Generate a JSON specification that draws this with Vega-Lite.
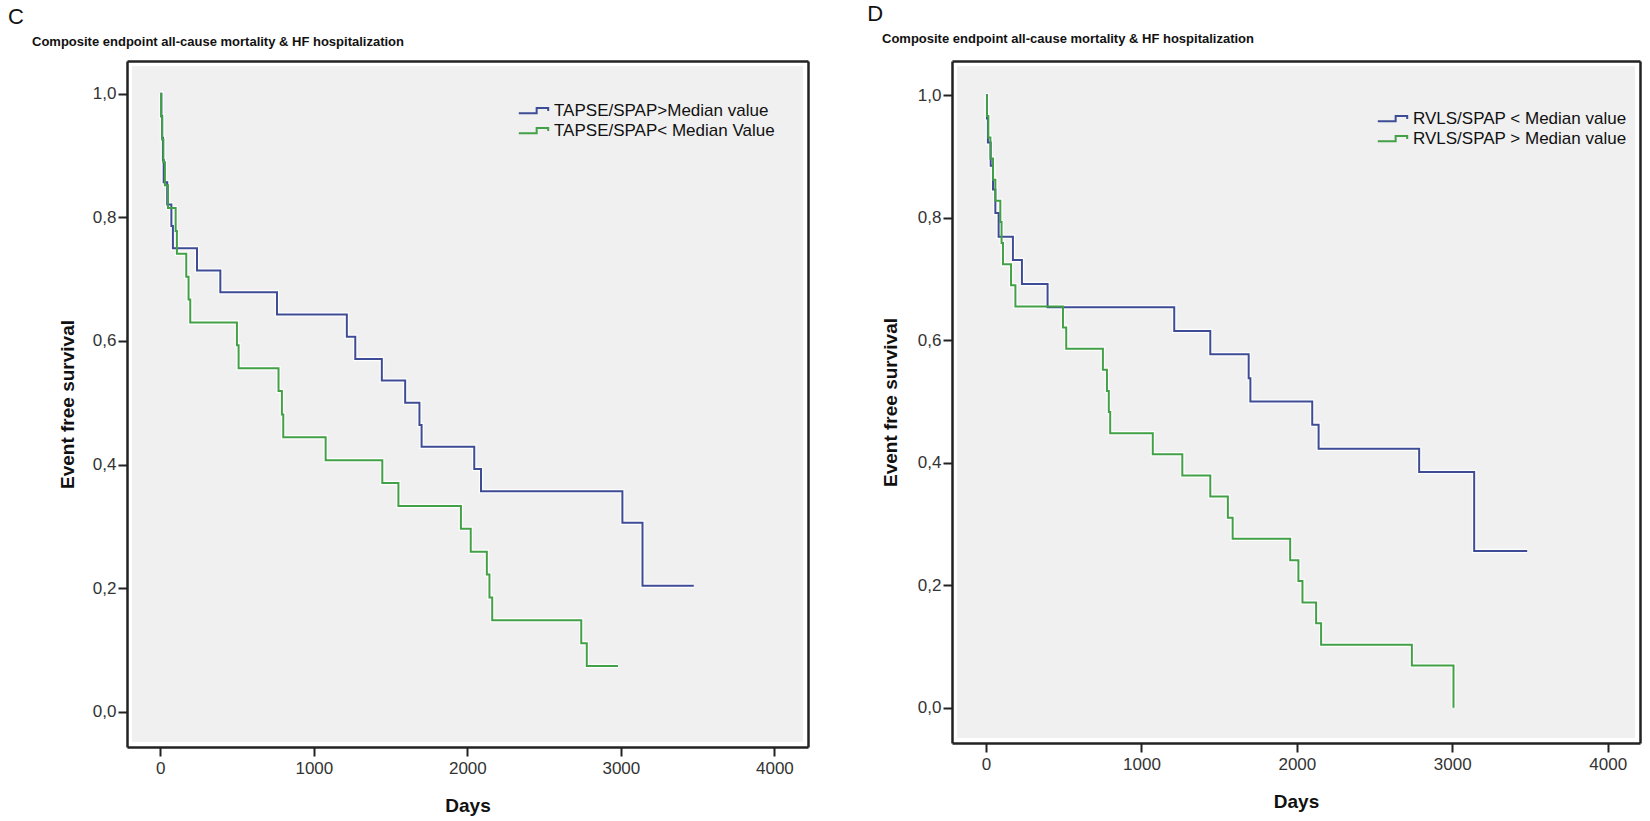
{
  "$schema": "https://vega.github.io/schema/vega-lite/v6.json",
  "background": "white",
  "padding": {"left": 8, "top": 3, "right": 5, "bottom": 5},
  "datasets": {
    "C": [
      {"g": "TAPSE/SPAP>Median value", "d": 0, "s": 1.0},
      {"g": "TAPSE/SPAP>Median value", "d": 7, "s": 0.964},
      {"g": "TAPSE/SPAP>Median value", "d": 12, "s": 0.929},
      {"g": "TAPSE/SPAP>Median value", "d": 17, "s": 0.893},
      {"g": "TAPSE/SPAP>Median value", "d": 22, "s": 0.857},
      {"g": "TAPSE/SPAP>Median value", "d": 45, "s": 0.821},
      {"g": "TAPSE/SPAP>Median value", "d": 72, "s": 0.786},
      {"g": "TAPSE/SPAP>Median value", "d": 82, "s": 0.75},
      {"g": "TAPSE/SPAP>Median value", "d": 239, "s": 0.714},
      {"g": "TAPSE/SPAP>Median value", "d": 391, "s": 0.679},
      {"g": "TAPSE/SPAP>Median value", "d": 760, "s": 0.643},
      {"g": "TAPSE/SPAP>Median value", "d": 1215, "s": 0.607},
      {"g": "TAPSE/SPAP>Median value", "d": 1270, "s": 0.571},
      {"g": "TAPSE/SPAP>Median value", "d": 1443, "s": 0.536},
      {"g": "TAPSE/SPAP>Median value", "d": 1595, "s": 0.5},
      {"g": "TAPSE/SPAP>Median value", "d": 1688, "s": 0.464},
      {"g": "TAPSE/SPAP>Median value", "d": 1702, "s": 0.429},
      {"g": "TAPSE/SPAP>Median value", "d": 2045, "s": 0.393},
      {"g": "TAPSE/SPAP>Median value", "d": 2089, "s": 0.357},
      {"g": "TAPSE/SPAP>Median value", "d": 3010, "s": 0.306},
      {"g": "TAPSE/SPAP>Median value", "d": 3141, "s": 0.204},
      {"g": "TAPSE/SPAP>Median value", "d": 3475, "s": 0.204},
      {"g": "TAPSE/SPAP< Median Value", "d": 0, "s": 1.0},
      {"g": "TAPSE/SPAP< Median Value", "d": 5, "s": 0.963},
      {"g": "TAPSE/SPAP< Median Value", "d": 12, "s": 0.926},
      {"g": "TAPSE/SPAP< Median Value", "d": 20, "s": 0.889},
      {"g": "TAPSE/SPAP< Median Value", "d": 30, "s": 0.852},
      {"g": "TAPSE/SPAP< Median Value", "d": 50, "s": 0.815},
      {"g": "TAPSE/SPAP< Median Value", "d": 100, "s": 0.778},
      {"g": "TAPSE/SPAP< Median Value", "d": 108, "s": 0.741},
      {"g": "TAPSE/SPAP< Median Value", "d": 169, "s": 0.704},
      {"g": "TAPSE/SPAP< Median Value", "d": 184, "s": 0.667},
      {"g": "TAPSE/SPAP< Median Value", "d": 195, "s": 0.63},
      {"g": "TAPSE/SPAP< Median Value", "d": 499, "s": 0.593},
      {"g": "TAPSE/SPAP< Median Value", "d": 510, "s": 0.556},
      {"g": "TAPSE/SPAP< Median Value", "d": 770, "s": 0.519},
      {"g": "TAPSE/SPAP< Median Value", "d": 792, "s": 0.481},
      {"g": "TAPSE/SPAP< Median Value", "d": 801, "s": 0.444},
      {"g": "TAPSE/SPAP< Median Value", "d": 1077, "s": 0.407},
      {"g": "TAPSE/SPAP< Median Value", "d": 1446, "s": 0.37},
      {"g": "TAPSE/SPAP< Median Value", "d": 1551, "s": 0.333},
      {"g": "TAPSE/SPAP< Median Value", "d": 1958, "s": 0.296},
      {"g": "TAPSE/SPAP< Median Value", "d": 2022, "s": 0.259},
      {"g": "TAPSE/SPAP< Median Value", "d": 2127, "s": 0.222},
      {"g": "TAPSE/SPAP< Median Value", "d": 2144, "s": 0.185},
      {"g": "TAPSE/SPAP< Median Value", "d": 2162, "s": 0.148},
      {"g": "TAPSE/SPAP< Median Value", "d": 2742, "s": 0.111},
      {"g": "TAPSE/SPAP< Median Value", "d": 2778, "s": 0.074},
      {"g": "TAPSE/SPAP< Median Value", "d": 2981, "s": 0.074}
    ],
    "D": [
      {"g": "RVLS/SPAP < Median value", "d": 0, "s": 1.0},
      {"g": "RVLS/SPAP < Median value", "d": 6, "s": 0.962},
      {"g": "RVLS/SPAP < Median value", "d": 12, "s": 0.923},
      {"g": "RVLS/SPAP < Median value", "d": 30, "s": 0.885},
      {"g": "RVLS/SPAP < Median value", "d": 45, "s": 0.846},
      {"g": "RVLS/SPAP < Median value", "d": 60, "s": 0.808},
      {"g": "RVLS/SPAP < Median value", "d": 81, "s": 0.769},
      {"g": "RVLS/SPAP < Median value", "d": 173, "s": 0.731},
      {"g": "RVLS/SPAP < Median value", "d": 231, "s": 0.692},
      {"g": "RVLS/SPAP < Median value", "d": 396, "s": 0.654},
      {"g": "RVLS/SPAP < Median value", "d": 1211, "s": 0.615},
      {"g": "RVLS/SPAP < Median value", "d": 1443, "s": 0.577},
      {"g": "RVLS/SPAP < Median value", "d": 1690, "s": 0.538},
      {"g": "RVLS/SPAP < Median value", "d": 1701, "s": 0.5},
      {"g": "RVLS/SPAP < Median value", "d": 2099, "s": 0.462},
      {"g": "RVLS/SPAP < Median value", "d": 2140, "s": 0.423},
      {"g": "RVLS/SPAP < Median value", "d": 2787, "s": 0.385},
      {"g": "RVLS/SPAP < Median value", "d": 3141, "s": 0.256},
      {"g": "RVLS/SPAP < Median value", "d": 3482, "s": 0.256},
      {"g": "RVLS/SPAP > Median value", "d": 0, "s": 1.0},
      {"g": "RVLS/SPAP > Median value", "d": 6, "s": 0.966},
      {"g": "RVLS/SPAP > Median value", "d": 15, "s": 0.931},
      {"g": "RVLS/SPAP > Median value", "d": 28, "s": 0.897},
      {"g": "RVLS/SPAP > Median value", "d": 45, "s": 0.862},
      {"g": "RVLS/SPAP > Median value", "d": 60, "s": 0.828},
      {"g": "RVLS/SPAP > Median value", "d": 92, "s": 0.793},
      {"g": "RVLS/SPAP > Median value", "d": 100, "s": 0.759},
      {"g": "RVLS/SPAP > Median value", "d": 109, "s": 0.724},
      {"g": "RVLS/SPAP > Median value", "d": 161, "s": 0.69},
      {"g": "RVLS/SPAP > Median value", "d": 189, "s": 0.655},
      {"g": "RVLS/SPAP > Median value", "d": 495, "s": 0.621},
      {"g": "RVLS/SPAP > Median value", "d": 516, "s": 0.586},
      {"g": "RVLS/SPAP > Median value", "d": 752, "s": 0.552},
      {"g": "RVLS/SPAP > Median value", "d": 778, "s": 0.517},
      {"g": "RVLS/SPAP > Median value", "d": 790, "s": 0.483},
      {"g": "RVLS/SPAP > Median value", "d": 799, "s": 0.448},
      {"g": "RVLS/SPAP > Median value", "d": 1073, "s": 0.414},
      {"g": "RVLS/SPAP > Median value", "d": 1263, "s": 0.379},
      {"g": "RVLS/SPAP > Median value", "d": 1443, "s": 0.345},
      {"g": "RVLS/SPAP > Median value", "d": 1556, "s": 0.31},
      {"g": "RVLS/SPAP > Median value", "d": 1587, "s": 0.276},
      {"g": "RVLS/SPAP > Median value", "d": 1957, "s": 0.241},
      {"g": "RVLS/SPAP > Median value", "d": 2010, "s": 0.207},
      {"g": "RVLS/SPAP > Median value", "d": 2036, "s": 0.172},
      {"g": "RVLS/SPAP > Median value", "d": 2124, "s": 0.138},
      {"g": "RVLS/SPAP > Median value", "d": 2156, "s": 0.103},
      {"g": "RVLS/SPAP > Median value", "d": 2740, "s": 0.069},
      {"g": "RVLS/SPAP > Median value", "d": 3008, "s": 0.0}
    ]
  },
  "spacing": 54,
  "resolve": {"scale": {"x": "independent", "y": "independent", "color": "independent"}, "legend": {"color": "independent"}, "axis": {"x": "independent", "y": "independent"}},
  "hconcat": [
    {
      "title": {"text": "C", "anchor": "start", "frame": "bounds", "dx": -19, "fontSize": 22, "fontWeight": "normal", "offset": 2, "color": "#111111"},
      "vconcat": [
        {
          "title": {"text": "Composite endpoint all-cause mortality & HF hospitalization", "anchor": "start", "frame": "group", "dx": -95, "offset": 12, "fontSize": 13, "fontWeight": "bold", "color": "#111111"},
          "width": 681,
          "height": 686,
          "data": {"name": "C"},
          "layer": [
            {
              "mark": {"type": "line", "interpolate": "step-after", "stroke": "white", "strokeWidth": 4.5, "opacity": 0.9},
              "encoding": {
                "x": {"field": "d", "type": "quantitative", "scale": {"domain": [-217, 4219], "nice": false, "zero": false},
                      "axis": {"orient": "bottom", "values": [0, 1000, 2000, 3000, 4000], "format": "d", "title": "Days", "labelPadding": 4, "titlePadding": 20}},
                "y": {"field": "s", "type": "quantitative", "scale": {"domain": [-0.057, 1.053], "nice": false, "zero": false},
                      "axis": {"orient": "left", "values": [0, 0.2, 0.4, 0.6, 0.8, 1], "labelExpr": "replace(format(datum.value, '.1f'), '.', ',')", "title": "Event free survival", "titlePadding": 15}},
                "detail": {"field": "g", "type": "nominal"}
              }
            },
            {
              "mark": {"type": "line", "interpolate": "step-after", "strokeWidth": 2},
              "encoding": {
                "x": {"field": "d", "type": "quantitative", "axis": {"orient": "top", "labels": false, "ticks": false, "title": null}},
                "y": {"field": "s", "type": "quantitative", "axis": {"orient": "right", "labels": false, "ticks": false, "title": null}},
                "color": {"field": "g", "type": "nominal",
                          "scale": {"domain": ["TAPSE/SPAP>Median value", "TAPSE/SPAP< Median Value"], "range": ["#3e4c95", "#42a047"]},
                          "legend": {"orient": "none", "legendX": 395, "legendY": 38, "title": null}}
              }
            }
          ],
          "resolve": {"axis": {"x": "independent", "y": "independent"}}
        }
      ]
    },
    {
      "title": {"text": "D", "anchor": "start", "frame": "bounds", "dx": -9, "fontSize": 22, "fontWeight": "normal", "offset": 2, "color": "#111111"},
      "vconcat": [
        {
          "title": {"text": "Composite endpoint all-cause mortality & HF hospitalization", "anchor": "start", "frame": "group", "dx": -70, "offset": 15, "fontSize": 13, "fontWeight": "bold", "color": "#111111"},
          "width": 688,
          "height": 682,
          "data": {"name": "D"},
          "layer": [
            {
              "mark": {"type": "line", "interpolate": "step-after", "stroke": "white", "strokeWidth": 4.5, "opacity": 0.9},
              "encoding": {
                "x": {"field": "d", "type": "quantitative", "scale": {"domain": [-219, 4208], "nice": false, "zero": false},
                      "axis": {"orient": "bottom", "values": [0, 1000, 2000, 3000, 4000], "format": "d", "title": "Days", "labelPadding": 4, "titlePadding": 20}},
                "y": {"field": "s", "type": "quantitative", "scale": {"domain": [-0.0576, 1.056], "nice": false, "zero": false},
                      "axis": {"orient": "left", "values": [0, 0.2, 0.4, 0.6, 0.8, 1], "labelExpr": "replace(format(datum.value, '.1f'), '.', ',')", "title": "Event free survival", "titlePadding": 17}},
                "detail": {"field": "g", "type": "nominal"}
              }
            },
            {
              "mark": {"type": "line", "interpolate": "step-after", "strokeWidth": 2},
              "encoding": {
                "x": {"field": "d", "type": "quantitative", "axis": {"orient": "top", "labels": false, "ticks": false, "title": null}},
                "y": {"field": "s", "type": "quantitative", "axis": {"orient": "right", "labels": false, "ticks": false, "title": null}},
                "color": {"field": "g", "type": "nominal",
                          "scale": {"domain": ["RVLS/SPAP < Median value", "RVLS/SPAP > Median value"], "range": ["#3e4c95", "#42a047"]},
                          "legend": {"orient": "none", "legendX": 429, "legendY": 46, "title": null}}
              }
            }
          ],
          "resolve": {"axis": {"x": "independent", "y": "independent"}}
        }
      ]
    }
  ],
  "config": {
    "font": "Liberation Sans",
    "view": {"fill": "#f0f0f0", "stroke": "#ffffff", "strokeWidth": 10},
    "axis": {
      "grid": false,
      "domainColor": "#222222",
      "domainWidth": 2.5,
      "tickColor": "#222222",
      "tickWidth": 2,
      "tickSize": 9,
      "labelPadding": 2,
      "labelFont": "Liberation Sans",
      "labelFontSize": 17,
      "labelColor": "#333333",
      "titleFont": "Liberation Sans",
      "titleFontSize": 19,
      "titleFontWeight": "bold",
      "titleColor": "#111111"
    },
    "legend": {
      "symbolType": "M-1.4,0.25H0.3V-0.25H1.4V0.05",
      "symbolSize": 441,
      "symbolStrokeWidth": 2,
      "symbolFillColor": "transparent",
      "labelFont": "Liberation Sans",
      "labelFontSize": 17,
      "labelColor": "#111111",
      "labelLimit": 500,
      "rowPadding": 0,
      "labelOffset": 9,
      "padding": 0
    },
    "title": {"font": "Liberation Sans"}
  }
}
